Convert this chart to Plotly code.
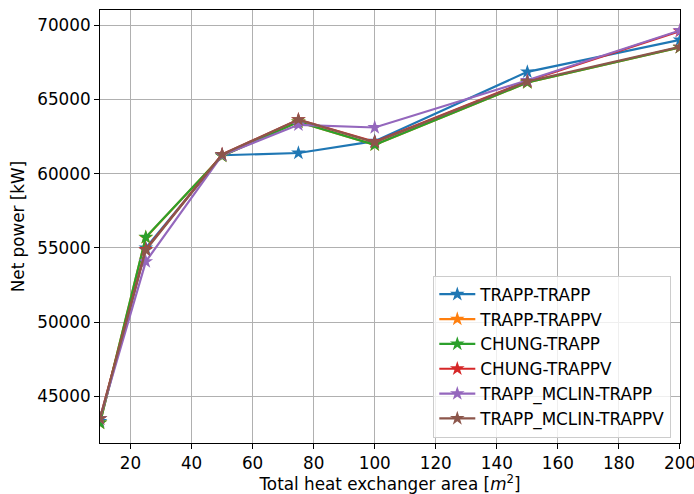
import plotly.graph_objects as go

# Total heat exchanger area [m^2]
area = [10, 25, 50, 75, 100, 150, 200]

# Net power [kW] for each correlation pair
trapp_trapp = [43300, 55000, 61250, 61400, 62200, 66870, 69030]
trapp_trappv = [43200, 55700, 61200, 63500, 61950, 66150, 68520]
chung_trapp = [43200, 55720, 61200, 63500, 61950, 66150, 68520]
chung_trappv = [43500, 54900, 61300, 63650, 62150, 66250, 69620]
trapp_mclin_trapp = [43500, 54080, 61250, 63300, 63120, 66300, 69660]
trapp_mclin_trappv = [43500, 54850, 61300, 63650, 62120, 66220, 68550]

series = [
    ("TRAPP-TRAPP", trapp_trapp, "#1f77b4"),
    ("TRAPP-TRAPPV", trapp_trappv, "#ff7f0e"),
    ("CHUNG-TRAPP", chung_trapp, "#2ca02c"),
    ("CHUNG-TRAPPV", chung_trappv, "#d62728"),
    ("TRAPP_MCLIN-TRAPP", trapp_mclin_trapp, "#9467bd"),
    ("TRAPP_MCLIN-TRAPPV", trapp_mclin_trappv, "#8c564b"),
]

font = dict(family="DejaVu Sans", size=16.8, color="black")

fig = go.Figure()
for name, vals, color in series:
    fig.add_trace(go.Scatter(
        x=area, y=vals, name=name, mode="lines+markers",
        line=dict(color=color, width=2.2),
        marker=dict(symbol="star", size=11, color=color),
    ))

axis_common = dict(
    showgrid=True, gridcolor="#b0b0b0", gridwidth=1,
    showline=True, linecolor="black", linewidth=1, mirror=True,
    ticks="outside", ticklen=5, tickcolor="black",
    zeroline=False, tickfont=font, tickformat="d",
    ticklabeloverflow="allow", automargin=False,
)

fig.update_layout(
    width=694, height=494,
    margin=dict(l=100, r=14, t=10, b=51),
    paper_bgcolor="white", plot_bgcolor="white",
    font=font,
    xaxis=dict(range=[10, 200.01], tickvals=list(range(20, 201, 20)),
               title=dict(text="Total heat exchanger area [<i>m</i><sup>2</sup>]",
                          font=font, standoff=9),
               **axis_common),
    yaxis=dict(range=[41850, 71040], tickvals=list(range(45000, 70001, 5000)),
               title=dict(text="Net power [kW]", font=font, standoff=8),
               **axis_common),
    legend=dict(x=0.985, y=0.012, xanchor="right", yanchor="bottom",
                bgcolor="rgba(255,255,255,0.8)", bordercolor="#cccccc",
                borderwidth=1, font=font, itemwidth=36),
    showlegend=True,
)

fig.write_html("out.html")
